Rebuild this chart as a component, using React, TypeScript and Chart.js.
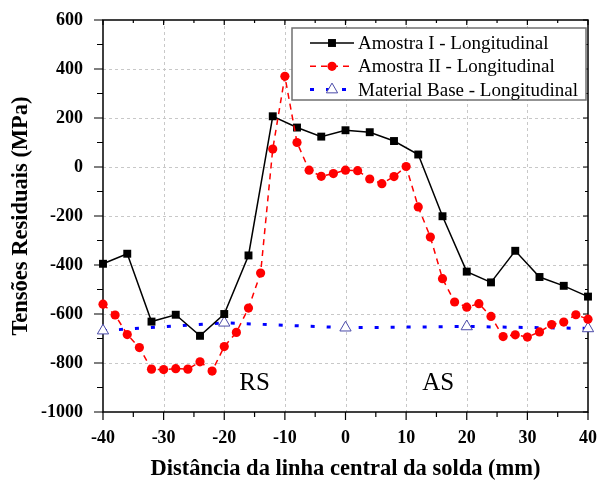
import React, { useEffect, useRef } from 'react';
import { Chart, registerables } from 'chart.js';

Chart.register(...registerables);

// ---------- data ----------
const xAmostraI = [-40, -36, -32, -28, -24, -20, -16, -12, -8, -4, 0, 4, 8, 12, 16, 20, 24, 28, 32, 36, 40];
const yAmostraI = [-395, -354, -631, -603, -689, -600, -361, 207, 161, 124, 150, 142, 106, 51, -201, -427, -471, -342, -449, -485, -529];

const xAmostraII = [-40, -38, -36, -34, -32, -30, -28, -26, -24, -22, -20, -18, -16, -14, -12, -10, -8, -6, -4, -2, 0, 2, 4, 6, 8, 10, 12, 14, 16, 18, 20, 22, 24, 26, 28, 30, 32, 34, 36, 38, 40];
const yAmostraII = [-560, -604, -684, -737, -825, -827, -823, -825, -795, -833, -733, -675, -576, -433, 73, 370, 100, -13, -38, -27, -13, -15, -49, -68, -39, 2, -163, -286, -456, -551, -572, -558, -610, -692, -685, -694, -673, -643, -633, -603, -621];

const xBase = [-40, -20, 0, 20, 40];
const yBase = [-668, -636, -656, -651, -659];

const seriesLabels = ['Amostra I - Longitudinal', 'Amostra II - Longitudinal', 'Material Base - Longitudinal'];

const xAxisTitle = 'Distância da linha central da solda (mm)';
const yAxisTitle = 'Tensões Residuais (MPa)';

const zoneLabels = ['RS', 'AS'];
const zoneX = [-15, 15.3];
const zoneY = -885;

const SERIF = '"Liberation Serif", "Times New Roman", Times, serif';

function drawMarker(ctx: CanvasRenderingContext2D, style: string, x: number, y: number, r: number, fill: string, stroke: string, bw: number) {
  ctx.save();
  ctx.setLineDash([]);
  ctx.beginPath();
  if (style === 'rect') {
    const s = Math.SQRT1_2 * r;
    ctx.rect(x - s, y - s, 2 * s, 2 * s);
  } else if (style === 'triangle') {
    let rad = 0;
    ctx.moveTo(x + Math.sin(rad) * r, y - Math.cos(rad) * r);
    rad += (2 * Math.PI) / 3;
    ctx.lineTo(x + Math.sin(rad) * r, y - Math.cos(rad) * r);
    rad += (2 * Math.PI) / 3;
    ctx.lineTo(x + Math.sin(rad) * r, y - Math.cos(rad) * r);
    ctx.closePath();
  } else {
    ctx.arc(x, y, r, 0, Math.PI * 2);
  }
  ctx.fillStyle = fill;
  ctx.fill();
  if (bw > 0) {
    ctx.lineWidth = bw;
    ctx.strokeStyle = stroke;
    ctx.stroke();
  }
  ctx.restore();
}

const framePlugin = {
  id: 'frameTicks',
  beforeDatasetsDraw(chart: any) {
    const { ctx, chartArea: a, scales } = chart;
    const xs = scales.x;
    const ys = scales.y;
    ctx.save();

    // dashed grid at major ticks
    ctx.strokeStyle = '#c8c8c8';
    ctx.lineWidth = 1;
    ctx.setLineDash([3, 3]);
    ctx.beginPath();
    for (let v = xs.min + 10; v < xs.max - 1e-9; v += 10) {
      const px = Math.round(xs.getPixelForValue(v)) + 0.5;
      ctx.moveTo(px, a.top);
      ctx.lineTo(px, a.bottom);
    }
    for (let v = ys.min + 200; v < ys.max - 1e-9; v += 200) {
      const py = Math.round(ys.getPixelForValue(v)) + 0.5;
      ctx.moveTo(a.left, py);
      ctx.lineTo(a.right, py);
    }
    ctx.stroke();
    ctx.setLineDash([]);

    // ticks
    ctx.strokeStyle = '#000';
    ctx.lineWidth = 1.2;
    ctx.beginPath();
    for (let v = xs.min; v <= xs.max + 1e-9; v += 5) {
      const px = xs.getPixelForValue(v);
      const major = Math.abs(v % 10) < 1e-9;
      ctx.moveTo(px, a.bottom);
      ctx.lineTo(px, a.bottom + (major ? 8 : 5));
      ctx.moveTo(px, a.top);
      ctx.lineTo(px, a.top + (major ? 5 : 3));
    }
    for (let v = ys.min; v <= ys.max + 1e-9; v += 100) {
      const py = ys.getPixelForValue(v);
      const major = Math.abs(v % 200) < 1e-9;
      ctx.moveTo(a.left, py);
      ctx.lineTo(a.left - (major ? 9 : 6), py);
      ctx.moveTo(a.right, py);
      ctx.lineTo(a.right - (major ? 5 : 3), py);
    }
    ctx.stroke();
    ctx.lineWidth = 1.5;
    ctx.strokeRect(a.left, a.top, a.right - a.left, a.bottom - a.top);

    // zone annotations
    ctx.fillStyle = '#000';
    ctx.font = `25px ${SERIF}`;
    ctx.textAlign = 'center';
    ctx.textBaseline = 'middle';
    zoneLabels.forEach((t, i) => {
      ctx.fillText(t, xs.getPixelForValue(zoneX[i]), ys.getPixelForValue(zoneY));
    });
    ctx.restore();
  },
};

const legendPlugin = {
  id: 'boxLegend',
  afterDatasetsDraw(chart: any) {
    const { ctx } = chart;
    const left = 292, top = 28, right = 586, bottom = 100;
    ctx.save();
    ctx.fillStyle = '#fff';
    ctx.fillRect(left, top, right - left, bottom - top);
    ctx.strokeStyle = '#707070';
    ctx.lineWidth = 1.5;
    ctx.strokeRect(left, top, right - left, bottom - top);
    chart.data.datasets.forEach((ds: any, i: number) => {
      const cy = 43 + i * 23.3;
      ctx.save();
      ctx.strokeStyle = ds.borderColor;
      ctx.lineWidth = ds.borderWidth;
      ctx.setLineDash(ds.borderDash || []);
      ctx.beginPath();
      ctx.moveTo(310, cy);
      ctx.lineTo(354, cy);
      ctx.stroke();
      ctx.restore();
      drawMarker(ctx, ds.pointStyle, 332, cy, ds.pointRadius, ds.pointBackgroundColor, ds.pointBorderColor, ds.pointBorderWidth);
      ctx.fillStyle = '#000';
      ctx.font = `19px ${SERIF}`;
      ctx.textAlign = 'left';
      ctx.textBaseline = 'middle';
      ctx.fillText(ds.label, 358, cy + 1);
    });
    ctx.restore();
  },
};

function toPoints(xs: number[], ys: number[]) {
  return xs.map((x, i) => ({ x, y: ys[i] }));
}

export default function App() {
  const ref = useRef<HTMLCanvasElement>(null);
  useEffect(() => {
    const tickFont = { family: SERIF, size: 18, weight: 'bold' as const };
    const titleFont = { family: SERIF, size: 22.5, weight: 'bold' as const };
    const hiddenGrid = {
      display: true,
      drawOnChartArea: false,
      drawTicks: true,
      color: 'rgba(0,0,0,0)',
      tickColor: 'rgba(0,0,0,0)',
      tickLength: 14,
    };
    const chart = new Chart(ref.current as HTMLCanvasElement, {
      type: 'line',
      data: {
        datasets: [
          {
            label: seriesLabels[0],
            data: toPoints(xAmostraI, yAmostraI),
            borderColor: '#000000',
            backgroundColor: '#000000',
            borderWidth: 1.5,
            pointStyle: 'rect',
            pointRadius: 5.6,
            pointBackgroundColor: '#000000',
            pointBorderColor: '#000000',
            pointBorderWidth: 0,
            order: 1,
            clip: false,
          } as any,
          {
            label: seriesLabels[1],
            data: toPoints(xAmostraII, yAmostraII),
            borderColor: '#ff0000',
            backgroundColor: '#ff0000',
            borderWidth: 1.5,
            borderDash: [6, 5],
            pointStyle: 'circle',
            pointRadius: 4.6,
            pointBackgroundColor: '#ff0000',
            pointBorderColor: '#ff0000',
            pointBorderWidth: 0,
            order: 0,
            clip: false,
          } as any,
          {
            label: seriesLabels[2],
            data: toPoints(xBase, yBase),
            borderColor: '#0000ff',
            backgroundColor: '#ffffff',
            borderWidth: 3,
            borderDash: [4, 12],
            pointStyle: 'triangle',
            pointRadius: 6.5,
            pointBackgroundColor: '#ffffff',
            pointBorderColor: '#4a4aa8',
            pointBorderWidth: 1,
            order: 2,
            clip: false,
          } as any,
        ],
      },
      options: {
        animation: false,
        responsive: false,
        devicePixelRatio: 1,
        layout: { padding: { top: 20, right: 11, left: 0, bottom: 0 } },
        plugins: { legend: { display: false }, tooltip: { enabled: false } },
        scales: {
          x: {
            type: 'linear',
            min: -40,
            max: 40,
            ticks: {
              stepSize: 10,
              color: '#000',
              font: tickFont,
              padding: 2,
              maxRotation: 0,
              autoSkip: false,
              callback: (v: any) => String(v),
            },
            grid: hiddenGrid,
            border: { display: false },
            title: { display: true, text: xAxisTitle, color: '#000', font: titleFont, padding: { top: 0, bottom: 0 } },
            afterFit: (s: any) => {
              s.height = 71;
            },
          },
          y: {
            type: 'linear',
            min: -1000,
            max: 600,
            ticks: {
              stepSize: 200,
              color: '#000',
              font: tickFont,
              padding: 6,
              callback: (v: any) => String(v),
            },
            grid: hiddenGrid,
            border: { display: false },
            title: { display: true, text: yAxisTitle, color: '#000', font: titleFont, padding: { top: 8, bottom: 0 } },
            afterFit: (s: any) => {
              s.width = 103;
            },
          },
        },
      },
      plugins: [framePlugin, legendPlugin],
    } as any);
    return () => chart.destroy();
  }, []);
  return (
    <div style={{ position: 'absolute', left: 0, top: 0, width: 599, height: 483, background: '#fff' }}>
      <canvas ref={ref} width={599} height={483} style={{ display: 'block', width: 599, height: 483 }} />
    </div>
  );
}
